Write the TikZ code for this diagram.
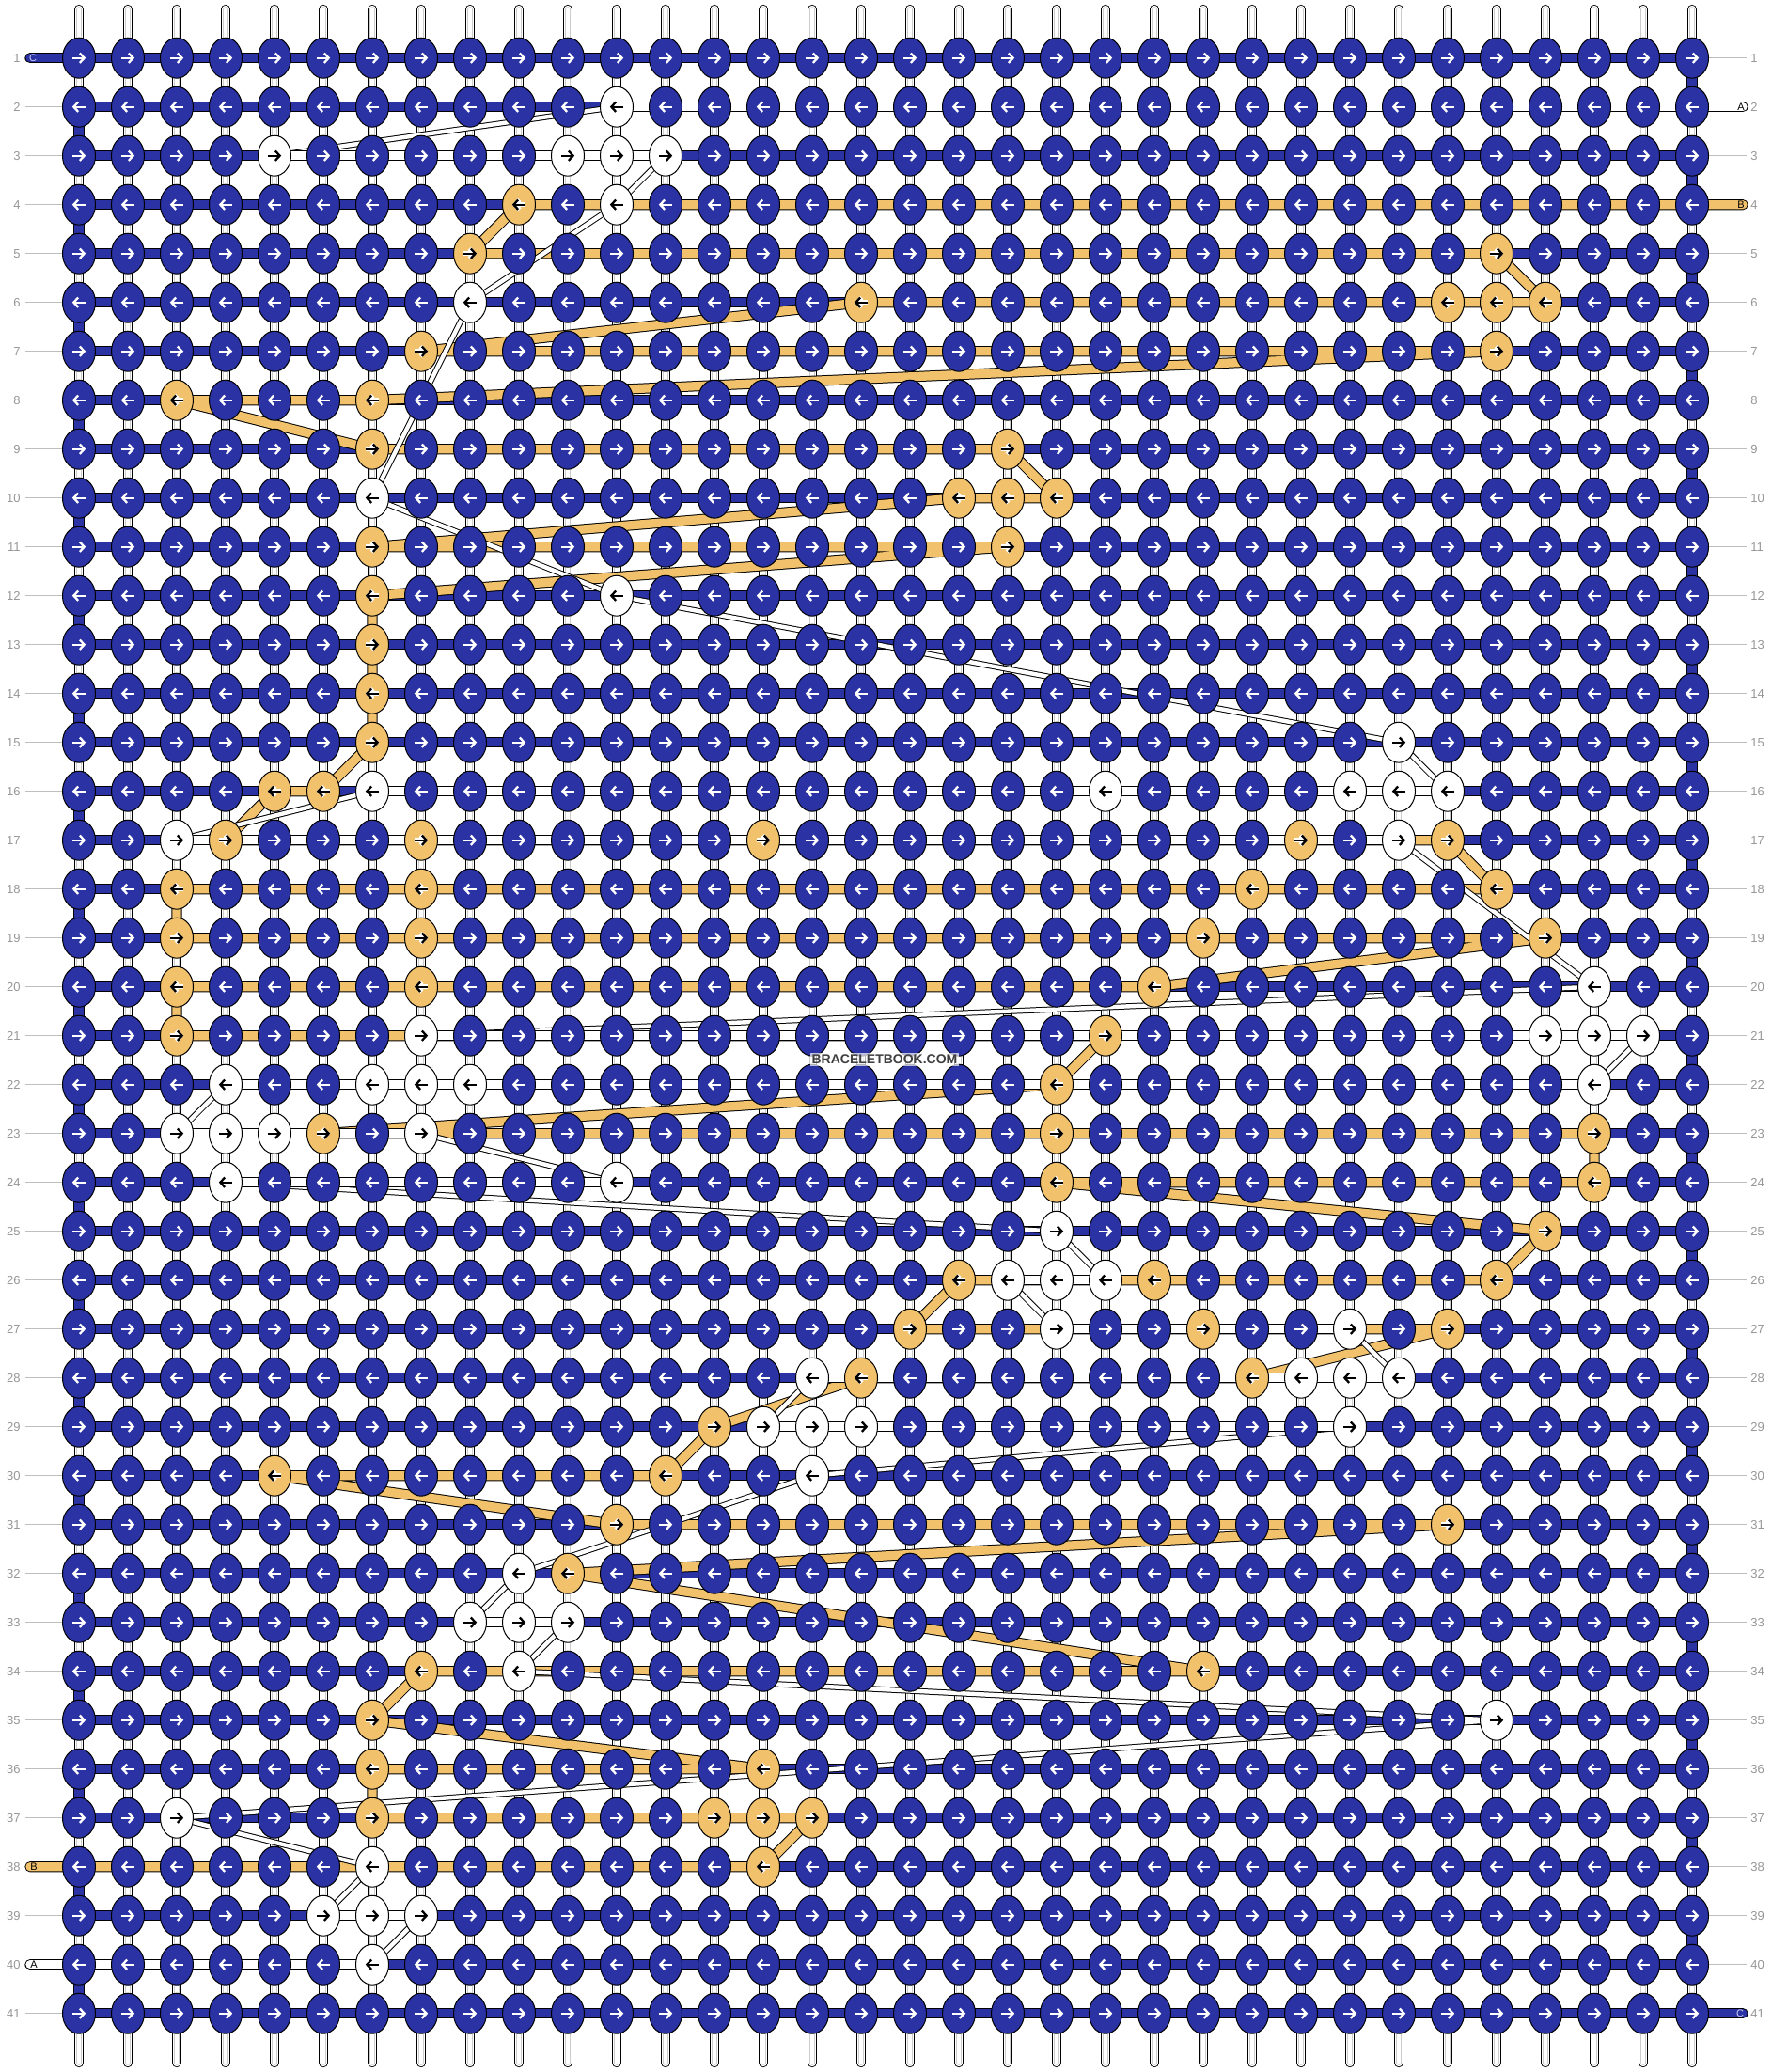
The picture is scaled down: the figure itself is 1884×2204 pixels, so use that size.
\documentclass[tikz,border=0pt]{standalone}
\usepackage{fontspec}
\setmainfont{Liberation Sans}
\usetikzlibrary{shapes.geometric,arrows.meta}
\definecolor{knotblue}{RGB}{42,50,164}
\definecolor{knotorange}{RGB}{241,193,108}
\definecolor{rulegray}{RGB}{190,190,190}
\definecolor{numgray}{RGB}{150,150,150}
\definecolor{taglilac}{RGB}{205,205,245}
\pgfdeclarelayer{strands}
\pgfdeclarelayer{threads}
\pgfsetlayers{strands,threads,main}

% knots of thread A (white) and thread B (orange), in working order
\def\pathA{2/12, 3/5, 3/11, 3/12, 3/13, 4/12, 6/9, 10/7, 12/12, 15/28,
  16/29, 16/28, 16/27, 16/22, 16/7, 17/3, 17/28, 20/32,
  21/8, 21/31, 21/32, 21/33, 22/32, 22/9, 22/8, 22/7, 22/4,
  23/3, 23/4, 23/5, 23/8, 24/12, 24/4, 25/21, 26/22, 26/21, 26/20,
  27/21, 27/27, 28/28, 28/27, 28/26, 28/16, 29/15, 29/16, 29/17, 29/27,
  30/16, 32/10, 33/9, 33/10, 33/11, 34/10, 35/30, 37/3, 38/7,
  39/6, 39/7, 39/8, 40/7}
\def\pathB{4/10, 5/9, 5/30, 6/31, 6/30, 6/29, 6/17, 7/8, 7/30, 8/7, 8/3,
  9/7, 9/20, 10/21, 10/20, 10/19, 11/7, 11/20, 12/7, 13/7, 14/7, 15/7,
  16/6, 16/5, 17/4, 17/8, 17/15, 17/26, 17/29, 18/30, 18/25, 18/8, 18/3,
  19/3, 19/8, 19/24, 19/31, 20/23, 20/8, 20/3, 21/3, 21/22, 22/21,
  23/6, 23/21, 23/32, 24/32, 24/21, 25/31, 26/30, 26/23, 26/19,
  27/18, 27/24, 27/29, 28/25, 28/17, 29/14, 30/13, 30/5, 31/12, 31/29,
  32/11, 34/24, 34/8, 35/7, 36/15, 36/7, 37/7, 37/14, 37/15, 37/16, 38/15}

\newcommand\knotarr[1]{\draw[knotarrow,#1]
  ([xshift=\xa]path picture bounding box.center) --
  ([xshift=\xb]path picture bounding box.center);}

\begin{document}
\begin{tikzpicture}[x=0.5pt, y=-0.5pt]
% STYLES
\tikzset{%
    knot/.style={%
ellipse,
draw=black,
line width=0.5pt,
inner sep=0pt,
minimum width=17.5pt,
minimum height=21.5pt
                },
    knotarrow/.style={line width=1.15pt, -{Straight Barb[length=2.4pt,width=5.2pt]}},
    kC/.style={knot, fill=knotblue, path picture={\knotarr{white}}},
    kA/.style={knot, fill=white, path picture={\knotarr{black}}},
    kB/.style={knot, fill=knotorange, path picture={\knotarr{white,line width=2.3pt}\knotarr{black}}},
    thr/.style={draw=black, line width=0.5pt, double distance=4.65pt, line join=round, line cap=round},
    thrC/.style={thr, double=knotblue},
    thrB/.style={thr, double=knotorange},
    thrA/.style={thr, double=white},
    thrAthin/.style={thrA, double distance=2.2pt},
    strand/.style={draw=black, line cap=round, line width=5.15pt,
      postaction={draw=white, line width=4.25pt},
      postaction={draw=black!20, line width=2.75pt},
      postaction={draw=white, line width=1.75pt}},
    rowrule/.style={draw=rulegray, line width=0.5pt},
    rownum/.style={text=numgray, inner sep=0pt, font=\fontsize{6.5pt}{7pt}\selectfont},
    tag/.style={inner sep=0pt, font=\fontsize{5.5pt}{6pt}\selectfont},
    stamp/.style={font=\bfseries\fontsize{7pt}{8pt}\selectfont, text=black!75,
      fill=white, fill opacity=0.7, text opacity=1, inner sep=1pt}
}
\useasboundingbox (0,0) rectangle (1884,2204);

% Mark the knots of A and B
\foreach \r/\c in \pathA {\expandafter\xdef\csname kc-\r-\c\endcsname{kA}}
\foreach \r/\c in \pathB {\expandafter\xdef\csname kc-\r-\c\endcsname{kB}}

% Draw knots
\foreach \r in {1,...,41}{
  \ifodd\r \def\xa{-3.6pt}\def\xb{3.6pt}\else \def\xa{3.6pt}\def\xb{-3.6pt}\fi
  \foreach \c in {1,...,34}{
    \ifcsname kc-\r-\c\endcsname \edef\kst{\csname kc-\r-\c\endcsname}\else \def\kst{kC}\fi
    \edef\knotnow{\noexpand\node[\kst] (k-\r-\c) at ({84+(\c-1)*52},{61.7+(\r-1)*52}) {};}\knotnow
  }
}

% Row numbers
\foreach \r in {1,...,41}{
  \node[rownum, anchor=east] (nl-\r) at (22,{61.7+(\r-1)*52}) {\r};
  \node[rownum, anchor=west] (nr-\r) at (1862,{61.7+(\r-1)*52}) {\r};
  \coordinate (rl-\r) at (27,{61.7+(\r-1)*52});
  \coordinate (rr-\r) at (1858,{61.7+(\r-1)*52});
}

% Thread ends
\coordinate (cS) at (32,61.7);
\coordinate (cE) at (1854,2141.7);
\coordinate (aS) at (1854,113.7);
\coordinate (aE) at (32,2089.7);
\coordinate (bS) at (1854,217.7);
\coordinate (bE) at (32,1985.7);
\node[tag, text=taglilac] (tag-c1) at (35,61.7) {C};
\node[tag] (tag-a2) at (1852,113.7) {A};
\node[tag] (tag-b4) at (1852,217.7) {B};
\node[tag] (tag-b38) at (36,1985.7) {B};
\node[tag] (tag-a40) at (36,2089.7) {A};
\node[tag, text=taglilac] (tag-c41) at (1851,2141.7) {C};

\node[stamp] (stamp) at (941,1127) {BRACELETBOOK.COM};

% Draw the base strings
\begin{pgfonlayer}{strands}
\foreach \c in {1,...,34}{
  \coordinate (st-\c) at ({84+(\c-1)*52},10);
  \coordinate (sb-\c) at ({84+(\c-1)*52},2194);
  \draw[strand] (st-\c) -- (sb-\c);
}
\end{pgfonlayer}

% Draw the working threads
\begin{pgfonlayer}{threads}
\foreach \r in {2,...,37,39,41} \draw[rowrule] (rl-\r) -- (k-\r-1.west);
\foreach \r in {1,3,5,6,...,40} \draw[rowrule] (k-\r-34.east) -- (rr-\r);

\draw[thrC] (cS) \foreach \r [evaluate=\r as \ca using {int(34-33*mod(\r,2))},
  evaluate=\r as \cb using {int(1+33*mod(\r,2))}] in {1,...,41}
  { -- (k-\r-\ca.center) -- (k-\r-\cb.center)} -- (cE);
\draw[thrB] (bS) \foreach \r/\c in \pathB { -- (k-\r-\c.center)} -- (bE);
\draw[thrAthin] (aS) \foreach \r/\c in \pathA { -- (k-\r-\c.center)} -- (aE);
\draw[thrA] (aS) -- (k-2-12.center);
\foreach \r/\ka/\kb in {3/5/13, 16/29/7, 17/3/28, 21/8/33, 22/32/4, 23/3/8, 24/12/4,
  26/22/20, 27/21/27, 28/28/16, 29/15/27, 33/9/11, 39/6/8}
  \draw[thrA] (k-\r-\ka.center) -- (k-\r-\kb.center);
\draw[thrA] (k-40-7.center) -- (aE);
\end{pgfonlayer}
\end{tikzpicture}
\end{document}
